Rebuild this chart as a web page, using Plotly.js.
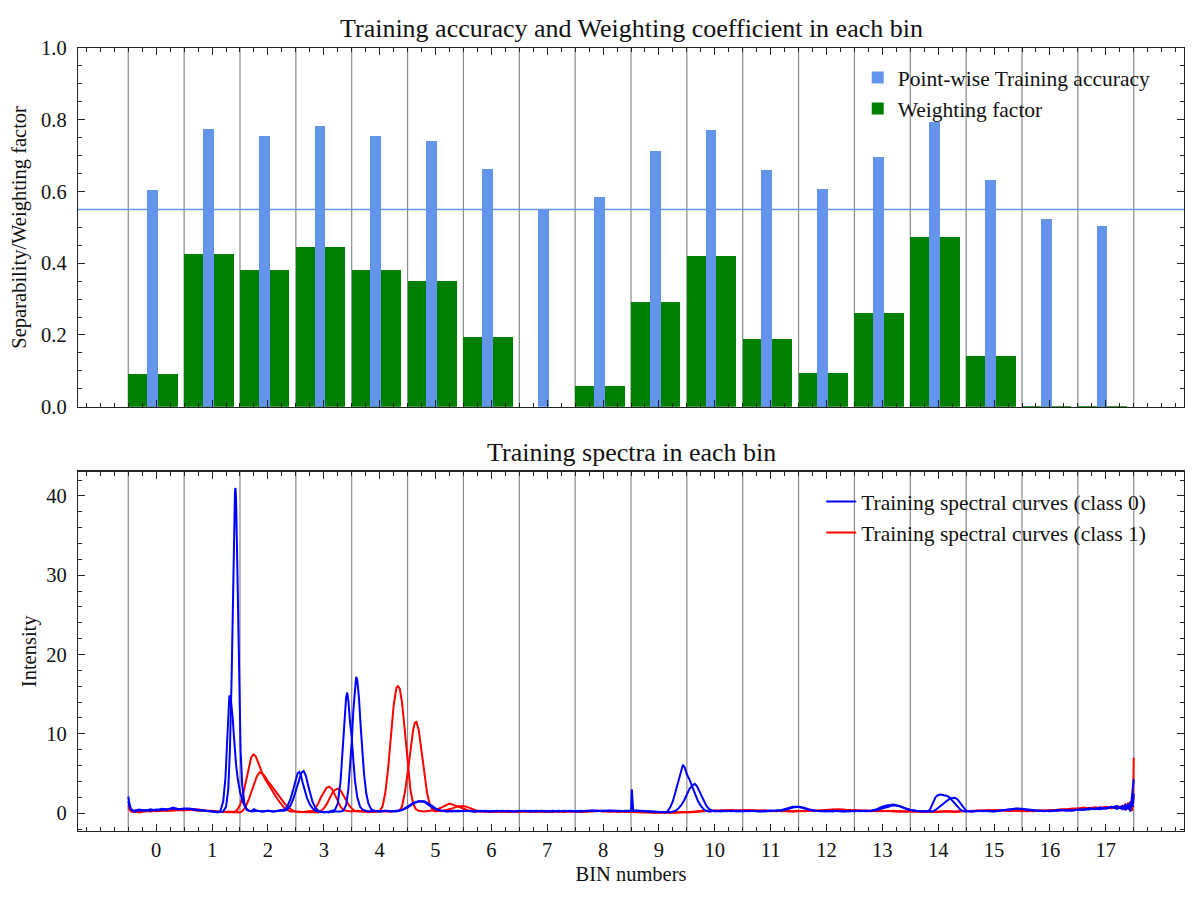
<!DOCTYPE html>
<html>
<head>
<meta charset="utf-8">
<script src="https://cdn.plot.ly/plotly-3.0.1.min.js"></script>
<style>html,body{margin:0;padding:0;background:#fff;}</style>
</head>
<body>
<div id="chart" style="width:1200px;height:898px;"></div>
<script>
// ---------- data ----------
const bins = [0,1,2,3,4,5,6,7,8,9,10,11,12,13,14,15,16,17];
const trainingAccuracy = [0.605,0.775,0.754,0.782,0.754,0.740,0.662,0.549,0.586,0.712,0.772,0.659,0.607,0.696,0.794,0.633,0.523,0.503];
const weightingFactor  = [0.090,0.427,0.382,0.444,0.382,0.351,0.194,0.000,0.059,0.293,0.420,0.189,0.094,0.260,0.473,0.140,0.003,0.003];
const accuracyThreshold = 0.55;
const xTickLabels = bins.map(String);

// spectral curves as [bin position, intensity] pairs
const class0CurveA = [[-0.5,2.1],[-0.48,1.2],[-0.45,0.5],[-0.4,0.3],[-0.3,0.45],[-0.2,0.3],[-0.1,0.5],[0,0.35],[0.1,0.55],[0.2,0.45],[0.3,0.7],[0.4,0.5],[0.5,0.6],[0.6,0.55],[0.7,0.45],[0.8,0.4],[0.9,0.3],[1.0,0.25],[1.1,0.1],[1.15,0.3],[1.2,1.5],[1.24,4.5],[1.27,9.0],[1.29,12.5],[1.31,14.8],[1.33,14.7],[1.35,13.6],[1.37,12.0],[1.39,9.8],[1.41,7.8],[1.43,6.1],[1.46,4.3],[1.5,2.7],[1.55,1.4],[1.6,0.7],[1.65,0.35],[1.7,0.25],[1.75,0.5],[1.8,0.3],[1.9,0.2],[2.0,0.3],[2.1,0.2],[2.2,0.3],[2.3,0.45],[2.35,0.9],[2.4,1.7],[2.45,2.9],[2.5,4.3],[2.53,5.0],[2.56,5.2],[2.59,4.8],[2.62,3.9],[2.66,2.8],[2.7,1.9],[2.75,1.1],[2.8,0.6],[2.85,0.3],[2.9,0.2],[3.0,0.1],[3.1,0.2],[3.2,0.4],[3.25,1.2],[3.3,4.0],[3.34,8.0],[3.37,12.0],[3.4,14.6],[3.42,15.2],[3.44,14.2],[3.47,11.5],[3.5,9.6],[3.53,6.6],[3.56,4.0],[3.6,2.0],[3.65,0.8],[3.7,0.4],[3.75,0.25],[3.8,0.2],[3.9,0.3],[4.0,0.2],[4.1,0.3],[4.2,0.25],[4.3,0.2],[4.4,0.4],[4.5,0.8],[4.6,1.3],[4.7,1.5],[4.8,1.4],[4.9,0.9],[5.0,0.5],[5.1,0.3],[5.2,0.2],[5.3,0.3],[5.4,0.2],[5.5,0.3],[5.6,0.25],[5.7,0.2],[5.8,0.3],[5.9,0.2],[6.0,0.25],[6.1,0.3],[6.2,0.2],[6.3,0.3],[6.4,0.2],[6.5,0.25],[6.6,0.3],[6.7,0.2],[6.8,0.3],[6.9,0.25],[7.0,0.2],[7.1,0.3],[7.2,0.2],[7.3,0.3],[7.4,0.25],[7.5,0.2],[7.6,0.3],[7.7,0.25],[7.8,0.35],[7.9,0.3],[8.0,0.25],[8.1,0.35],[8.2,0.3],[8.3,0.25],[8.4,0.3],[8.5,0.3],[8.515,3.0],[8.525,1.5],[8.54,0.3],[8.6,0.35],[8.7,0.3],[8.8,0.25],[8.9,0.2],[9.0,0.1],[9.1,0.1],[9.15,0.2],[9.2,0.7],[9.25,1.5],[9.3,2.8],[9.35,4.2],[9.4,5.6],[9.43,6.1],[9.46,5.8],[9.5,4.9],[9.55,4.2],[9.6,3.3],[9.65,2.3],[9.7,1.5],[9.75,0.9],[9.8,0.5],[9.85,0.3],[9.9,0.2],[10.0,0.3],[10.1,0.2],[10.2,0.3],[10.3,0.25],[10.4,0.3],[10.5,0.2],[10.6,0.3],[10.7,0.25],[10.8,0.2],[10.9,0.3],[11.0,0.3],[11.1,0.35],[11.2,0.4],[11.3,0.6],[11.4,0.8],[11.5,0.8],[11.6,0.6],[11.7,0.4],[11.8,0.3],[11.9,0.25],[12.0,0.2],[12.1,0.3],[12.2,0.25],[12.3,0.2],[12.4,0.3],[12.5,0.25],[12.6,0.3],[12.7,0.25],[12.8,0.3],[12.9,0.5],[13.0,0.8],[13.1,1.0],[13.2,1.1],[13.3,0.9],[13.4,0.6],[13.5,0.4],[13.6,0.3],[13.7,0.2],[13.8,0.2],[13.85,0.4],[13.9,1.2],[13.95,2.0],[14.0,2.3],[14.05,2.35],[14.1,2.25],[14.15,2.2],[14.2,2.0],[14.25,1.6],[14.3,1.1],[14.35,0.7],[14.4,0.4],[14.45,0.25],[14.5,0.2],[14.6,0.2],[14.7,0.25],[14.8,0.3],[14.9,0.25],[15.0,0.2],[15.1,0.3],[15.2,0.4],[15.3,0.5],[15.4,0.55],[15.5,0.5],[15.6,0.4],[15.7,0.35],[15.8,0.3],[15.9,0.25],[16.0,0.3],[16.1,0.35],[16.2,0.4],[16.3,0.3],[16.4,0.35],[16.5,0.4],[16.6,0.5],[16.7,0.45],[16.8,0.6],[16.9,0.5],[17.0,0.65],[17.1,0.8],[17.2,0.55],[17.3,0.9],[17.35,0.4],[17.4,1.2],[17.44,0.2],[17.47,2.5],[17.5,4.3]];

const class0CurveB = [[-0.5,1.5],[-0.47,0.6],[-0.4,0.2],[-0.3,0.35],[-0.2,0.4],[-0.1,0.3],[0,0.45],[0.1,0.4],[0.2,0.5],[0.3,0.6],[0.4,0.5],[0.5,0.55],[0.6,0.6],[0.7,0.4],[0.8,0.35],[0.9,0.3],[1.0,0.2],[1.1,0.15],[1.2,0.2],[1.25,0.8],[1.29,3.0],[1.32,8.0],[1.35,17.0],[1.37,26.0],[1.39,35.0],[1.41,40.5],[1.42,41.0],[1.43,39.5],[1.45,32.0],[1.47,22.0],[1.49,13.8],[1.51,8.0],[1.54,3.5],[1.58,1.2],[1.62,0.4],[1.7,0.2],[1.8,0.3],[1.9,0.2],[2.0,0.3],[2.1,0.2],[2.2,0.3],[2.3,0.3],[2.35,0.5],[2.4,0.9],[2.45,1.7],[2.5,2.9],[2.55,4.2],[2.6,5.1],[2.64,5.3],[2.68,4.7],[2.72,3.5],[2.76,2.3],[2.8,1.4],[2.85,0.7],[2.9,0.3],[3.0,0.1],[3.1,0.1],[3.2,0.2],[3.3,0.2],[3.35,0.3],[3.4,1.0],[3.44,3.0],[3.47,5.5],[3.5,9.0],[3.53,13.0],[3.56,16.0],[3.58,17.2],[3.6,16.8],[3.63,14.5],[3.66,11.0],[3.69,8.0],[3.72,5.0],[3.76,2.5],[3.8,1.2],[3.85,0.5],[3.9,0.3],[4.0,0.2],[4.1,0.3],[4.2,0.2],[4.3,0.3],[4.4,0.4],[4.5,0.7],[4.6,1.2],[4.7,1.5],[4.8,1.5],[4.9,1.1],[5.0,0.6],[5.1,0.3],[5.2,0.25],[5.3,0.2],[5.4,0.3],[5.5,0.25],[5.6,0.3],[5.7,0.2],[5.8,0.25],[5.9,0.3],[6.0,0.2],[6.1,0.25],[6.2,0.3],[6.3,0.25],[6.4,0.2],[6.5,0.3],[6.6,0.25],[6.7,0.3],[6.8,0.2],[6.9,0.3],[7.0,0.25],[7.1,0.2],[7.2,0.3],[7.3,0.25],[7.4,0.3],[7.5,0.25],[7.6,0.2],[7.7,0.3],[7.8,0.3],[7.9,0.35],[8.0,0.3],[8.1,0.3],[8.2,0.35],[8.3,0.3],[8.4,0.25],[8.5,0.3],[8.6,0.3],[8.7,0.25],[8.8,0.2],[8.9,0.2],[9.0,0.15],[9.1,0.1],[9.2,0.1],[9.3,0.3],[9.35,0.6],[9.4,1.0],[9.45,1.6],[9.5,2.4],[9.55,3.1],[9.6,3.5],[9.64,3.7],[9.68,3.4],[9.72,2.8],[9.76,2.1],[9.8,1.5],[9.85,0.9],[9.9,0.5],[9.95,0.3],[10.0,0.2],[10.1,0.3],[10.2,0.25],[10.3,0.3],[10.4,0.2],[10.5,0.3],[10.6,0.25],[10.7,0.3],[10.8,0.25],[10.9,0.2],[11.0,0.3],[11.1,0.3],[11.2,0.35],[11.3,0.5],[11.4,0.7],[11.5,0.8],[11.6,0.7],[11.7,0.45],[11.8,0.3],[11.9,0.25],[12.0,0.3],[12.1,0.2],[12.2,0.3],[12.3,0.25],[12.4,0.2],[12.5,0.3],[12.6,0.25],[12.7,0.3],[12.8,0.3],[12.9,0.4],[13.0,0.6],[13.1,0.8],[13.2,1.0],[13.3,0.9],[13.4,0.6],[13.5,0.4],[13.6,0.3],[13.7,0.25],[13.8,0.2],[13.9,0.2],[13.95,0.4],[14.0,0.7],[14.05,1.0],[14.1,1.3],[14.15,1.6],[14.2,1.8],[14.25,1.9],[14.3,1.95],[14.35,1.7],[14.4,1.2],[14.45,0.7],[14.5,0.3],[14.6,0.2],[14.7,0.3],[14.8,0.25],[14.9,0.3],[15.0,0.25],[15.1,0.35],[15.2,0.4],[15.3,0.5],[15.4,0.6],[15.5,0.55],[15.6,0.45],[15.7,0.4],[15.8,0.3],[15.9,0.3],[16.0,0.25],[16.1,0.3],[16.2,0.35],[16.3,0.4],[16.4,0.3],[16.5,0.45],[16.6,0.4],[16.7,0.6],[16.8,0.5],[16.9,0.7],[17.0,0.55],[17.1,0.7],[17.2,0.9],[17.3,0.5],[17.35,1.0],[17.4,0.6],[17.45,1.4],[17.48,0.8],[17.5,2.5]];

const class1CurveA = [[-0.5,1.0],[-0.47,0.4],[-0.4,0.2],[-0.3,0.1],[-0.2,0.3],[-0.1,0.2],[0,0.3],[0.1,0.4],[0.2,0.3],[0.3,0.45],[0.4,0.5],[0.5,0.45],[0.6,0.4],[0.7,0.5],[0.8,0.4],[0.9,0.35],[1.0,0.3],[1.1,0.2],[1.2,0.1],[1.3,0.2],[1.4,0.15],[1.45,0.4],[1.5,1.0],[1.55,2.2],[1.6,3.8],[1.65,5.5],[1.7,7.0],[1.74,7.4],[1.78,7.2],[1.82,6.5],[1.86,5.6],[1.9,5.0],[1.95,4.3],[2.0,3.7],[2.05,3.2],[2.1,2.6],[2.15,2.0],[2.2,1.5],[2.25,1.0],[2.3,0.6],[2.35,0.4],[2.4,0.2],[2.5,0.2],[2.6,0.1],[2.7,0.2],[2.8,0.3],[2.85,0.6],[2.9,1.2],[2.95,2.0],[3.0,2.7],[3.05,3.2],[3.1,3.35],[3.15,3.0],[3.2,2.3],[3.25,1.5],[3.3,0.8],[3.35,0.4],[3.4,0.3],[3.5,0.2],[3.6,0.3],[3.7,0.2],[3.8,0.1],[3.9,0.2],[4.0,0.3],[4.05,0.8],[4.1,2.5],[4.15,5.5],[4.2,9.5],[4.25,13.5],[4.3,15.8],[4.33,16.0],[4.36,15.7],[4.4,14.0],[4.45,10.5],[4.5,6.5],[4.55,3.0],[4.6,1.2],[4.65,0.5],[4.7,0.3],[4.8,0.2],[4.9,0.3],[5.0,0.4],[5.1,0.7],[5.2,1.1],[5.25,1.2],[5.3,1.1],[5.4,0.8],[5.5,0.5],[5.6,0.3],[5.7,0.2],[5.8,0.25],[5.9,0.2],[6.0,0.15],[6.1,0.25],[6.2,0.2],[6.3,0.15],[6.4,0.2],[6.5,0.25],[6.6,0.2],[6.7,0.15],[6.8,0.2],[6.9,0.25],[7.0,0.2],[7.1,0.15],[7.2,0.2],[7.3,0.2],[7.4,0.25],[7.5,0.2],[7.6,0.15],[7.7,0.2],[7.8,0.25],[7.9,0.3],[8.0,0.2],[8.1,0.25],[8.2,0.2],[8.3,0.15],[8.4,0.2],[8.5,0.15],[8.6,0.1],[8.7,0.15],[8.8,0.1],[8.9,0.05],[9.0,0.1],[9.1,0.05],[9.2,0.1],[9.3,0.05],[9.4,0.1],[9.5,0.15],[9.6,0.1],[9.7,0.2],[9.8,0.25],[9.9,0.3],[10.0,0.35],[10.1,0.3],[10.2,0.4],[10.3,0.35],[10.4,0.3],[10.5,0.4],[10.6,0.35],[10.7,0.3],[10.8,0.35],[10.9,0.3],[11.0,0.25],[11.1,0.3],[11.2,0.25],[11.3,0.3],[11.4,0.2],[11.5,0.25],[11.6,0.3],[11.7,0.35],[11.8,0.3],[11.9,0.35],[12.0,0.4],[12.1,0.45],[12.2,0.4],[12.3,0.35],[12.4,0.4],[12.5,0.3],[12.6,0.35],[12.7,0.3],[12.8,0.25],[12.9,0.3],[13.0,0.25],[13.1,0.3],[13.2,0.2],[13.3,0.25],[13.4,0.2],[13.5,0.25],[13.6,0.2],[13.7,0.15],[13.8,0.2],[13.9,0.15],[14.0,0.2],[14.1,0.25],[14.2,0.2],[14.3,0.15],[14.4,0.2],[14.5,0.25],[14.6,0.3],[14.7,0.35],[14.8,0.3],[14.9,0.4],[15.0,0.35],[15.1,0.4],[15.2,0.3],[15.3,0.35],[15.4,0.3],[15.5,0.25],[15.6,0.3],[15.7,0.25],[15.8,0.3],[15.9,0.35],[16.0,0.3],[16.1,0.4],[16.2,0.5],[16.3,0.45],[16.4,0.6],[16.5,0.55],[16.6,0.7],[16.7,0.6],[16.8,0.75],[16.9,0.65],[17.0,0.8],[17.1,0.6],[17.2,0.9],[17.3,0.7],[17.35,1.1],[17.4,0.5],[17.44,1.5],[17.47,0.3],[17.49,1.5],[17.5,7.0]];

const class1CurveB = [[-0.5,0.7],[-0.45,0.2],[-0.4,0.15],[-0.3,0.25],[-0.2,0.2],[-0.1,0.3],[0,0.25],[0.1,0.3],[0.2,0.35],[0.3,0.3],[0.4,0.4],[0.5,0.35],[0.6,0.45],[0.7,0.35],[0.8,0.3],[0.9,0.3],[1.0,0.25],[1.1,0.2],[1.2,0.15],[1.3,0.1],[1.4,0.15],[1.5,0.1],[1.55,0.3],[1.6,0.8],[1.65,1.6],[1.7,2.6],[1.75,3.7],[1.8,4.6],[1.85,5.15],[1.9,5.0],[1.95,4.6],[2.0,4.0],[2.05,3.6],[2.1,3.1],[2.15,2.6],[2.2,2.1],[2.25,1.6],[2.3,1.2],[2.35,0.8],[2.4,0.5],[2.45,0.3],[2.5,0.2],[2.6,0.15],[2.7,0.1],[2.8,0.15],[2.9,0.1],[2.95,0.3],[3.0,0.6],[3.05,1.1],[3.1,1.8],[3.15,2.5],[3.2,2.9],[3.25,3.1],[3.3,2.9],[3.35,2.3],[3.4,1.6],[3.45,1.0],[3.5,0.6],[3.55,0.3],[3.6,0.2],[3.7,0.25],[3.8,0.2],[3.9,0.15],[4.0,0.2],[4.1,0.25],[4.2,0.2],[4.3,0.25],[4.35,0.3],[4.4,0.8],[4.45,2.5],[4.5,5.0],[4.55,8.0],[4.6,10.5],[4.63,11.4],[4.66,11.5],[4.7,10.5],[4.75,8.0],[4.8,5.0],[4.85,2.5],[4.9,1.0],[4.95,0.4],[5.0,0.2],[5.1,0.3],[5.2,0.4],[5.3,0.6],[5.4,0.85],[5.5,0.9],[5.6,0.7],[5.7,0.4],[5.8,0.2],[5.9,0.25],[6.0,0.2],[6.1,0.15],[6.2,0.2],[6.3,0.25],[6.4,0.2],[6.5,0.15],[6.6,0.2],[6.7,0.25],[6.8,0.2],[6.9,0.15],[7.0,0.2],[7.1,0.25],[7.2,0.2],[7.3,0.15],[7.4,0.2],[7.5,0.25],[7.6,0.2],[7.7,0.25],[7.8,0.2],[7.9,0.25],[8.0,0.3],[8.1,0.2],[8.2,0.25],[8.3,0.2],[8.4,0.15],[8.5,0.2],[8.6,0.15],[8.7,0.1],[8.8,0.15],[8.9,0.1],[9.0,0.05],[9.1,0.1],[9.2,0.05],[9.3,0.1],[9.4,0.15],[9.5,0.1],[9.6,0.15],[9.7,0.2],[9.8,0.3],[9.9,0.25],[10.0,0.3],[10.1,0.35],[10.2,0.3],[10.3,0.4],[10.4,0.35],[10.5,0.3],[10.6,0.4],[10.7,0.35],[10.8,0.3],[10.9,0.35],[11.0,0.3],[11.1,0.25],[11.2,0.3],[11.3,0.2],[11.4,0.25],[11.5,0.3],[11.6,0.25],[11.7,0.3],[11.8,0.35],[11.9,0.3],[12.0,0.35],[12.1,0.4],[12.2,0.5],[12.3,0.45],[12.4,0.35],[12.5,0.4],[12.6,0.3],[12.7,0.35],[12.8,0.3],[12.9,0.25],[13.0,0.3],[13.1,0.25],[13.2,0.3],[13.3,0.2],[13.4,0.25],[13.5,0.2],[13.6,0.25],[13.7,0.2],[13.8,0.15],[13.9,0.2],[14.0,0.15],[14.1,0.2],[14.2,0.25],[14.3,0.2],[14.4,0.25],[14.5,0.3],[14.6,0.25],[14.7,0.3],[14.8,0.35],[14.9,0.3],[15.0,0.4],[15.1,0.35],[15.2,0.4],[15.3,0.3],[15.4,0.35],[15.5,0.3],[15.6,0.25],[15.7,0.3],[15.8,0.35],[15.9,0.3],[16.0,0.4],[16.1,0.35],[16.2,0.45],[16.3,0.5],[16.4,0.45],[16.5,0.6],[16.6,0.5],[16.7,0.65],[16.8,0.55],[16.9,0.7],[17.0,0.6],[17.1,0.8],[17.2,0.65],[17.3,0.9],[17.35,0.4],[17.4,1.3],[17.45,0.5],[17.5,2.0]];

// ---------- figure ----------
const FONT = 'Liberation Serif, Times New Roman, serif';
const xs = c => c.map(p => p[0]);
const ys = c => c.map(p => p[1]);

const traces = [
  {type:'bar', name:'Weighting factor', x:bins, y:weightingFactor,
   offset:-0.5, width:0.885, marker:{color:'#008000', line:{width:0}},
   xaxis:'x', yaxis:'y', legend:'legend', legendgroup:'w', legendrank:2},
  {type:'bar', name:'Point-wise Training accuracy', x:bins, y:trainingAccuracy,
   offset:-0.165, width:0.195, marker:{color:'#6495ED', line:{width:0}},
   xaxis:'x', yaxis:'y', legend:'legend', legendgroup:'acc', legendrank:1},
  {type:'scatter', mode:'lines', name:'Training spectral curves (class 1)', x:xs(class1CurveA), y:ys(class1CurveA),
   line:{color:'#FF0000', width:2}, xaxis:'x2', yaxis:'y2', legend:'legend2', legendgroup:'c1', legendrank:2},
  {type:'scatter', mode:'lines', name:'Training spectral curves (class 1)', x:xs(class1CurveB), y:ys(class1CurveB),
   line:{color:'#FF0000', width:2}, xaxis:'x2', yaxis:'y2', legend:'legend2', legendgroup:'c1', showlegend:false},
  {type:'scatter', mode:'lines', name:'Training spectral curves (class 0)', x:xs(class0CurveA), y:ys(class0CurveA),
   line:{color:'#0000FF', width:2}, xaxis:'x2', yaxis:'y2', legend:'legend2', legendgroup:'c0', legendrank:1},
  {type:'scatter', mode:'lines', name:'Training spectral curves (class 0)', x:xs(class0CurveB), y:ys(class0CurveB),
   line:{color:'#0000FF', width:2}, xaxis:'x2', yaxis:'y2', legend:'legend2', legendgroup:'c0', showlegend:false}
];

const axisCommon = {
  showline:true, linecolor:'#222', linewidth:1.2, mirror:'allticks',
  ticks:'inside', ticklen:7, tickwidth:1, tickcolor:'#222',
  showgrid:false, zeroline:false,
  tickfont:{family:FONT, size:20.5, color:'#111'}
};
const minorTicks = {ticks:'inside', ticklen:4, tickwidth:1, tickcolor:'#222', showgrid:false};
const xRange = [-1.4, 18.4];

const boundaries = bins.map(b => b - 0.5).concat([bins[bins.length-1] + 0.5]);
const shapes = [];
['y','y2'].forEach((ya, i) => {
  boundaries.forEach(b => shapes.push({
    type:'line', xref: i === 0 ? 'x' : 'x2', yref: ya + ' domain',
    x0:b, x1:b, y0:0, y1:1, layer:'below',
    line:{color:'#8a8a8a', width:1.2}
  }));
});
shapes.push({type:'line', xref:'x domain', yref:'y', x0:0, x1:1,
  y0:accuracyThreshold, y1:accuracyThreshold, line:{color:'#6495ED', width:1.5}});

const layout = {
  width:1200, height:898,
  margin:{l:78, r:16, t:48, b:67},
  paper_bgcolor:'white', plot_bgcolor:'white',
  font:{family:FONT, size:20.5, color:'#111'},
  barmode:'overlay', bargap:0,
  showlegend:true,
  xaxis:Object.assign({}, axisCommon, {
    anchor:'y', domain:[0,1], range:xRange,
    tickmode:'array', tickvals:bins, ticktext:xTickLabels, showticklabels:false,
    minor:Object.assign({tickmode:'linear', tick0:0, dtick:0.25}, minorTicks)
  }),
  yaxis:Object.assign({}, axisCommon, {
    anchor:'x', domain:[0.5419,1], range:[0,1],
    tickmode:'linear', tick0:0, dtick:0.2, tickformat:'.1f', ticklabelstandoff:6,
    minor:Object.assign({dtick:0.05}, minorTicks),
    title:{text:'Separability/Weighting factor', font:{family:FONT, size:20.5}, standoff:8}
  }),
  xaxis2:Object.assign({}, axisCommon, {
    anchor:'y2', domain:[0,1], range:xRange,
    tickmode:'array', tickvals:bins, ticktext:xTickLabels,
    minor:Object.assign({tickmode:'linear', tick0:0, dtick:0.25}, minorTicks),
    title:{text:'BIN numbers', font:{family:FONT, size:20.5}, standoff:6}
  }),
  yaxis2:Object.assign({}, axisCommon, {
    anchor:'x2', domain:[0,0.4589], range:[-2.25,43.05],
    tickmode:'linear', tick0:0, dtick:10, ticklabelstandoff:6,
    minor:Object.assign({dtick:2}, minorTicks),
    title:{text:'Intensity', font:{family:FONT, size:20.5}, standoff:4}
  }),
  legend:{x:0.705, xanchor:'left', y:0.9885, yanchor:'top', bgcolor:'rgba(0,0,0,0)',
    borderwidth:0, font:{family:FONT, size:21.5, color:'#111'}, traceorder:'grouped', tracegroupgap:0},
  legend2:{x:0.672, xanchor:'left', y:0.447, yanchor:'top', bgcolor:'rgba(0,0,0,0)',
    borderwidth:0, font:{family:FONT, size:21.5, color:'#111'}, traceorder:'grouped', tracegroupgap:0},
  shapes:shapes,
  annotations:[
    {text:'Training accuracy and Weighting coefficient in each bin', xref:'paper', yref:'paper',
     x:0.5, y:1.0255, xanchor:'center', yanchor:'middle', showarrow:false, font:{family:FONT, size:26, color:'#111'}},
    {text:'Training spectra in each bin', xref:'paper', yref:'paper',
     x:0.5, y:0.484, xanchor:'center', yanchor:'middle', showarrow:false, font:{family:FONT, size:26, color:'#111'}}
  ]
};

Plotly.newPlot('chart', traces, layout, {displayModeBar:false, staticPlot:true});
</script>
</body>
</html>
